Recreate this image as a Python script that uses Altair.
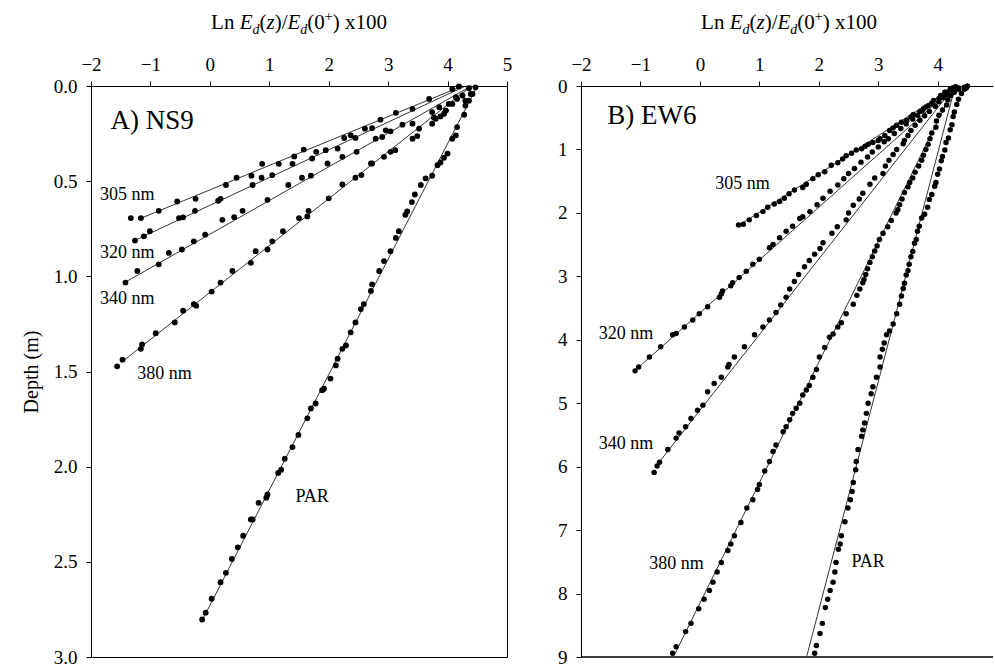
import altair as alt
import pandas as pd

FONT = "Liberation Serif"

# ---------------- Panel A: NS9 ----------------
a305_x = [-1.33, -1.16, -0.86, -0.55, -0.24, 0.27, 0.45, 0.70, 0.88, 1.16, 1.42, 1.58, 2.26, 2.37,
          2.61, 2.73, 2.87, 3.13, 3.41, 3.69, 4.08, 4.19]
a305_z = [0.694, 0.694, 0.656, 0.607, 0.593, 0.520, 0.482, 0.471, 0.409, 0.409, 0.370, 0.334, 0.273,
          0.259, 0.224, 0.221, 0.177, 0.141, 0.120, 0.068, 0.016, 0.002]

a320_x = [-1.26, -1.11, -1.01, -0.52, -0.45, -0.25, 0.14, 0.18, 0.72, 0.87, 1.05, 1.39, 1.72, 1.79,
          1.95, 2.15, 2.45, 2.96, 3.24, 3.74, 3.86, 4.14, 4.36]
a320_z = [0.812, 0.790, 0.763, 0.694, 0.690, 0.656, 0.603, 0.593, 0.520, 0.482, 0.468, 0.409, 0.381,
          0.346, 0.337, 0.329, 0.273, 0.233, 0.203, 0.137, 0.111, 0.059, 0.012]

a340_x = [-1.42, -1.22, -0.86, -0.69, -0.47, -0.27, -0.08, 0.21, 0.41, 0.55, 0.97, 1.32, 1.55, 1.70,
          1.98, 2.23, 2.47, 2.79, 2.90, 3.04, 3.41, 3.77, 3.97, 4.08, 4.30, 4.42]
a340_z = [1.033, 0.972, 0.937, 0.877, 0.859, 0.816, 0.781, 0.703, 0.689, 0.656, 0.598, 0.520, 0.482,
          0.471, 0.407, 0.372, 0.346, 0.277, 0.268, 0.238, 0.198, 0.165, 0.129, 0.094, 0.077, 0.042]

a380_x = [-1.56, -1.47, -1.16, -1.14, -0.91, -0.59, -0.45, -0.27, -0.23, 0.03, 0.18, 0.38, 0.69, 0.77,
          0.97, 1.05, 1.23, 1.50, 1.64, 1.66, 2.00, 2.23, 2.45, 2.55, 2.71, 2.73, 2.93, 3.04, 3.12,
          3.41, 3.49, 3.52, 3.74, 3.80, 3.88, 3.94, 3.97, 4.02, 4.16, 4.25]
a380_z = [1.473, 1.438, 1.381, 1.358, 1.299, 1.242, 1.181, 1.146, 1.155, 1.080, 1.033, 0.972, 0.929,
          0.868, 0.859, 0.816, 0.763, 0.694, 0.685, 0.656, 0.590, 0.517, 0.482, 0.468, 0.407, 0.407,
          0.372, 0.346, 0.337, 0.277, 0.263, 0.224, 0.198, 0.172, 0.160, 0.146, 0.129, 0.094, 0.068,
          0.050]

aPAR_x = [4.47, 4.39, 4.36, 4.30, 4.28, 4.16, 4.14, 4.08, 4.00, 3.94, 3.88, 3.83, 3.74, 3.63, 3.55,
          3.45, 3.40, 3.32, 3.29, 3.18, 3.13, 3.04, 2.93, 2.85, 2.73, 2.71, 2.59, 2.54, 2.45, 2.37,
          2.29, 2.23, 2.15, 2.12, 2.03, 1.92, 1.89, 1.78, 1.70, 1.64, 1.49, 1.39, 1.26, 1.20, 1.15,
          0.97, 0.95, 0.82, 0.72, 0.69, 0.56, 0.47, 0.37, 0.27, 0.18, 0.03, -0.07, -0.13]
aPAR_z = [0.007, 0.042, 0.077, 0.103, 0.151, 0.216, 0.259, 0.277, 0.355, 0.377, 0.402, 0.416, 0.471,
          0.485, 0.520, 0.570, 0.610, 0.659, 0.677, 0.763, 0.798, 0.868, 0.920, 0.972, 1.042, 1.077,
          1.146, 1.172, 1.242, 1.294, 1.363, 1.381, 1.433, 1.468, 1.537, 1.590, 1.598, 1.668, 1.694,
          1.746, 1.833, 1.897, 1.958, 2.016, 2.033, 2.146, 2.163, 2.190, 2.277, 2.277, 2.363, 2.424,
          2.485, 2.558, 2.607, 2.694, 2.767, 2.803]

# regression lines: (x_top, x_bottom), (z_top, z_bottom)
a_fit_series = ["305", "320", "340", "380", "PAR"]
a_fit_x = [(4.25, -1.20), (4.30, -1.22), (4.40, -1.42), (4.40, -1.48), (4.50, -0.10)]
a_fit_z = [(0.00, 0.700), (0.00, 0.805), (0.00, 1.030), (0.00, 1.450), (0.00, 2.790)]

a_notes = ["305 nm", "320 nm", "340 nm", "380 nm", "PAR"]
a_note_x = [-1.85, -1.85, -1.85, -1.22, 1.44]
a_note_z = [0.598, 0.906, 1.146, 1.537, 2.186]

# ---------------- Panel B: EW6 ----------------
b305_x = [4.30, 4.25, 4.21, 4.15, 4.12, 4.04, 3.93, 3.90, 3.84, 3.76, 3.70, 3.59, 3.55, 3.48, 3.39,
          3.31, 3.25, 3.19, 3.11, 3.03, 3.00, 2.91, 2.83, 2.78, 2.72, 2.63, 2.55, 2.46, 2.40, 2.32,
          2.21, 2.10, 1.99, 1.90, 1.79, 1.73, 1.59, 1.50, 1.42, 1.34, 1.25, 1.14, 1.06, 0.95, 0.83,
          0.73, 0.65]
b305_z = [0.01, 0.03, 0.05, 0.13, 0.10, 0.18, 0.23, 0.27, 0.31, 0.36, 0.40, 0.45, 0.49, 0.54, 0.57,
          0.62, 0.66, 0.70, 0.78, 0.83, 0.86, 0.89, 0.92, 0.95, 0.99, 1.01, 1.06, 1.10, 1.15, 1.21,
          1.25, 1.35, 1.40, 1.46, 1.55, 1.60, 1.64, 1.70, 1.77, 1.82, 1.86, 1.91, 1.98, 2.04, 2.11,
          2.18, 2.19]

b320_x = [4.30, 4.22, 4.14, 4.05, 4.02, 3.90, 3.80, 3.74, 3.66, 3.58, 3.47, 3.38, 3.27, 3.17, 3.10,
          3.00, 2.90, 2.82, 2.71, 2.60, 2.50, 2.42, 2.32, 2.19, 2.07, 1.97, 1.85, 1.73, 1.68, 1.56,
          1.45, 1.34, 1.23, 1.17, 1.00, 0.89, 0.78, 0.66, 0.55, 0.52, 0.38, 0.36, 0.33, 0.13, -0.01,
          -0.12, -0.26, -0.40, -0.46, -0.66, -0.85, -1.03, -1.09]
b320_z = [0.02, 0.06, 0.10, 0.15, 0.20, 0.28, 0.33, 0.39, 0.46, 0.52, 0.60, 0.67, 0.75, 0.83, 0.88,
          0.96, 1.04, 1.12, 1.20, 1.30, 1.38, 1.46, 1.56, 1.66, 1.77, 1.87, 1.98, 2.06, 2.09, 2.21,
          2.29, 2.39, 2.50, 2.55, 2.73, 2.81, 2.92, 3.02, 3.10, 3.15, 3.23, 3.28, 3.33, 3.48, 3.59,
          3.69, 3.80, 3.90, 3.92, 4.11, 4.27, 4.43, 4.49]

b340_x = [4.35, 4.25, 4.16, 4.09, 4.02, 3.96, 3.86, 3.78, 3.70, 3.62, 3.55, 3.50, 3.44, 3.42, 3.31,
          3.25, 3.18, 3.12, 3.08, 2.94, 2.86, 2.74, 2.68, 2.58, 2.50, 2.46, 2.31, 2.22, 2.07, 2.02,
          1.93, 1.84, 1.76, 1.66, 1.59, 1.51, 1.45, 1.36, 1.28, 1.17, 1.06, 0.92, 0.75, 0.58, 0.49,
          0.47, 0.36, 0.24, 0.13, 0.05, -0.04, -0.15, -0.24, -0.35, -0.40, -0.54, -0.68, -0.72, -0.77]
b340_z = [0.03, 0.08, 0.14, 0.18, 0.25, 0.32, 0.40, 0.47, 0.54, 0.62, 0.70, 0.78, 0.86, 0.91, 1.00,
          1.08, 1.17, 1.26, 1.38, 1.45, 1.55, 1.69, 1.78, 1.88, 2.00, 2.11, 2.22, 2.32, 2.47, 2.56,
          2.65, 2.75, 2.85, 2.97, 3.08, 3.20, 3.33, 3.45, 3.57, 3.69, 3.80, 3.92, 4.11, 4.27, 4.39,
          4.43, 4.59, 4.69, 4.82, 5.03, 5.11, 5.24, 5.37, 5.47, 5.55, 5.73, 5.93, 5.99, 6.09]

b380_x = [4.45, 4.35, 4.28, 4.22, 4.17, 4.15, 4.08, 4.02, 3.98, 3.97, 3.90, 3.87, 3.84, 3.80, 3.76,
          3.73, 3.68, 3.62, 3.58, 3.53, 3.50, 3.44, 3.40, 3.36, 3.33, 3.30, 3.22, 3.16, 3.08, 3.02,
          2.98, 2.94, 2.90, 2.86, 2.82, 2.79, 2.76, 2.74, 2.69, 2.64, 2.58, 2.46, 2.38, 2.32, 2.24,
          2.18, 2.10, 2.01, 1.96, 1.90, 1.84, 1.79, 1.73, 1.68, 1.62, 1.56, 1.51, 1.45, 1.40, 1.28,
          1.23, 1.17, 1.09, 1.00, 0.97, 0.89, 0.79, 0.69, 0.58, 0.52, 0.47, 0.36, 0.29, 0.22, 0.16,
          0.07, -0.02, -0.15, -0.24, -0.40, -0.46]
b380_z = [0.02, 0.05, 0.10, 0.15, 0.22, 0.30, 0.38, 0.46, 0.55, 0.65, 0.74, 0.83, 0.92, 1.00, 1.09,
          1.17, 1.26, 1.36, 1.45, 1.52, 1.59, 1.68, 1.78, 1.87, 1.95, 2.00, 2.12, 2.22, 2.32, 2.42,
          2.52, 2.60, 2.69, 2.78, 2.88, 2.97, 3.05, 3.10, 3.20, 3.30, 3.44, 3.59, 3.73, 3.80, 3.91,
          3.96, 4.12, 4.27, 4.47, 4.59, 4.72, 4.79, 4.87, 5.00, 5.08, 5.16, 5.26, 5.37, 5.45, 5.66,
          5.76, 5.92, 6.07, 6.28, 6.36, 6.52, 6.65, 6.88, 7.09, 7.22, 7.32, 7.51, 7.66, 7.82, 7.95,
          8.09, 8.24, 8.47, 8.60, 8.84, 8.94]

bPAR_x = [4.50, 4.48, 4.45, 4.40, 4.35, 4.32, 4.28, 4.26, 4.24, 4.21, 4.18, 4.14, 4.12, 4.08, 4.06,
          4.03, 4.00, 3.97, 3.95, 3.90, 3.86, 3.83, 3.78, 3.73, 3.69, 3.66, 3.64, 3.61, 3.58, 3.55,
          3.52, 3.50, 3.47, 3.44, 3.42, 3.39, 3.36, 3.31, 3.25, 3.19, 3.14, 3.10, 3.07, 3.03, 3.03,
          2.97, 2.91, 2.88, 2.83, 2.80, 2.77, 2.74, 2.72, 2.66, 2.63, 2.62, 2.58, 2.56, 2.53, 2.49,
          2.44, 2.38, 2.36, 2.33, 2.29, 2.27, 2.24, 2.19, 2.15, 2.11, 2.06, 2.02, 1.96, 1.93]
bPAR_z = [0.00, 0.03, 0.05, 0.12, 0.21, 0.29, 0.41, 0.48, 0.61, 0.69, 0.82, 0.89, 1.01, 1.11, 1.18,
          1.31, 1.39, 1.52, 1.58, 1.71, 1.79, 1.91, 2.02, 2.08, 2.21, 2.29, 2.42, 2.48, 2.61, 2.69,
          2.81, 2.91, 2.98, 3.11, 3.19, 3.31, 3.44, 3.59, 3.75, 3.86, 3.92, 4.05, 4.15, 4.27, 4.43,
          4.59, 4.74, 4.85, 5.00, 5.16, 5.31, 5.42, 5.52, 5.73, 5.92, 6.05, 6.25, 6.39, 6.52, 6.65,
          6.87, 7.09, 7.22, 7.30, 7.51, 7.66, 7.82, 7.95, 8.09, 8.22, 8.47, 8.63, 8.82, 8.94]

b_fit_series = ["305", "320", "340", "380", "PAR"]
b_fit_x = [(4.25, 0.70), (4.20, -1.05), (4.22, -0.72), (4.25, -0.43), (4.28, 1.80)]
b_fit_z = [(0.03, 2.17), (0.08, 4.45), (0.08, 5.97), (0.08, 8.97), (0.05, 8.98)]

b_notes = ["305 nm", "320 nm", "340 nm", "380 nm", "PAR"]
b_note_x = [0.26, -1.70, -1.70, -0.85, 2.55]
b_note_z = [1.62, 3.99, 5.72, 7.62, 7.585]

# panel geometry and type sizes
PX_PER_UNIT = 59.43
PH = 571
TICK_FS = 19
NOTE_FS = 18
TAG_FS = 27
TITLE_FS = 21
SMALL_FS = 14

# advance widths (per 1000 em) of the serif face, used to set the axis caption piece by piece
ADV = {"L": 611, "n": 500, " ": 250, "(": 333, ")": 333, "/": 278, "0": 500, "1": 500,
       "x": 500, "+": 564, "d": 500, "E": 611, "z": 444}
ADV_IT = {"E": 611, "d": 500, "z": 389}


def text_width(s, size, italic=False):
    table = ADV_IT if italic else ADV
    return sum(table.get(ch, ADV.get(ch, 500)) for ch in s) * size / 1000.0


def caption_layers(center):
    # Ln E_d(z)/E_d(0+) x100 with italic E, z and subscript d, superscript +
    pieces = [
        ("Ln ", TITLE_FS, False, 0),
        ("E", TITLE_FS, True, 0),
        ("d", SMALL_FS, True, 5),
        ("(", TITLE_FS, False, 0),
        ("z", TITLE_FS, True, 0),
        (")/", TITLE_FS, False, 0),
        ("E", TITLE_FS, True, 0),
        ("d", SMALL_FS, True, 5),
        ("(0", TITLE_FS, False, 0),
        ("+", SMALL_FS, False, -8),
        (") x100", TITLE_FS, False, 0),
    ]
    total = sum(text_width(t, fs, it) for t, fs, it, _ in pieces)
    x0 = center - total / 2
    base = -57
    layers = []
    for t, fs, it, dy in pieces:
        layers.append(
            alt.Chart(pd.DataFrame({"t": [t]}))
            .mark_text(align="left", baseline="alphabetic", font=FONT, fontSize=fs,
                       fontStyle="italic" if it else "normal", color="black")
            .encode(text="t:N", x=alt.value(x0), y=alt.value(base + dy))
        )
        x0 += text_width(t, fs, it)
    return layers


def points_frame(series):
    frames = []
    for name, xs, zs in series:
        frames.append(pd.DataFrame({"x": xs, "z": zs, "series": name}))
    return pd.concat(frames, ignore_index=True)


def fit_frame(names, xs, zs):
    rows = []
    for name, (x1, x2), (z1, z2) in zip(names, xs, zs):
        rows.append({"series": name, "x": x1, "z": z1})
        rows.append({"series": name, "x": x2, "z": z2})
    return pd.DataFrame(rows)


AXIS_STYLE = dict(labelFont=FONT, labelFontSize=TICK_FS, labelColor="black",
                  domainColor="black", domainWidth=1, tickColor="black", tickWidth=1,
                  tickSize=5, grid=False, labelFlush=False, labelOverlap=False)


def panel(pts, fits, notes, tag, tag_x, tag_z, xmax, xticks, zmax, zticks, zfmt, ytitle, dot,
          framed):
    width = round(PX_PER_UNIT * (xmax + 2))
    xenc = alt.X("x:Q",
                 scale=alt.Scale(domain=[-2, xmax], nice=False, zero=False),
                 axis=alt.Axis(orient="top", values=xticks, title=None, format="d",
                               labelPadding=7, **AXIS_STYLE))
    yaxis = dict(values=zticks, format=zfmt, title=ytitle if ytitle else None,
                 labelPadding=9, **AXIS_STYLE)
    if ytitle:
        yaxis.update(titleFont=FONT, titleFontSize=20, titleFontWeight="normal",
                     titleColor="black", titlePadding=12)
    yenc = alt.Y("z:Q",
                 scale=alt.Scale(domain=[0, zmax], reverse=True, nice=False, zero=False),
                 axis=alt.Axis(**yaxis))

    lines = alt.Chart(fits).mark_line(color="black", strokeWidth=0.8).encode(
        x=xenc, y=yenc, detail="series:N", order="z:Q")
    dots = alt.Chart(pts).mark_circle(color="black", opacity=1, size=dot).encode(x=xenc, y=yenc)
    labels = alt.Chart(notes).mark_text(align="left", baseline="alphabetic", font=FONT,
                                        fontSize=NOTE_FS, color="black").encode(
        x=xenc, y=yenc, text="label:N")
    tag_df = pd.DataFrame({"label": [tag], "x": [tag_x], "z": [tag_z]})
    tag_mark = alt.Chart(tag_df).mark_text(align="left", baseline="alphabetic", font=FONT,
                                           fontSize=TAG_FS, color="black").encode(
        x=xenc, y=yenc, text="label:N")
    layers = [lines, dots, labels, tag_mark]
    if not framed:
        # frame runs on past the page edge: only its bottom edge is drawn here
        bottom = alt.Chart(pd.DataFrame({"z": [zmax]})).mark_rule(
            color="black", strokeWidth=1.4).encode(
            y=yenc, x=alt.value(0), x2=alt.value(width))
        layers.append(bottom)
    center = PX_PER_UNIT * 3.5  # middle of the full -2..5 span
    layers += caption_layers(center)
    view = alt.ViewBackground(stroke="black", strokeWidth=1) if framed else \
        alt.ViewBackground(strokeWidth=0)
    return alt.layer(*layers).properties(width=width, height=PH, view=view)


a_pts = points_frame([("305", a305_x, a305_z), ("320", a320_x, a320_z), ("340", a340_x, a340_z),
                      ("380", a380_x, a380_z), ("PAR", aPAR_x, aPAR_z)])
b_pts = points_frame([("305", b305_x, b305_z), ("320", b320_x, b320_z), ("340", b340_x, b340_z),
                      ("380", b380_x, b380_z), ("PAR", bPAR_x, bPAR_z)])

a_fits = fit_frame(a_fit_series, a_fit_x, a_fit_z)
b_fits = fit_frame(b_fit_series, b_fit_x, b_fit_z)

a_lab = pd.DataFrame({"label": a_notes, "x": a_note_x, "z": a_note_z})
b_lab = pd.DataFrame({"label": b_notes, "x": b_note_x, "z": b_note_z})

left = panel(a_pts, a_fits, a_lab, "A) NS9", -1.67, 0.224, 5, [-2, -1, 0, 1, 2, 3, 4, 5],
             3.0, [0, 0.5, 1.0, 1.5, 2.0, 2.5, 3.0], ".1f", "Depth (m)", 34, True)
right = panel(b_pts, b_fits, b_lab, "B) EW6", -1.56, 0.595, 4.93, [-2, -1, 0, 1, 2, 3, 4],
              9, list(range(0, 10)), "d", None, 30, False)

chart = (
    alt.hconcat(left, right, spacing=74, bounds="flush")
    .properties(padding={"left": 20, "top": 9, "right": 0, "bottom": 0})
)

chart.save("out.html", embed_options={"renderer": "svg", "actions": False})
